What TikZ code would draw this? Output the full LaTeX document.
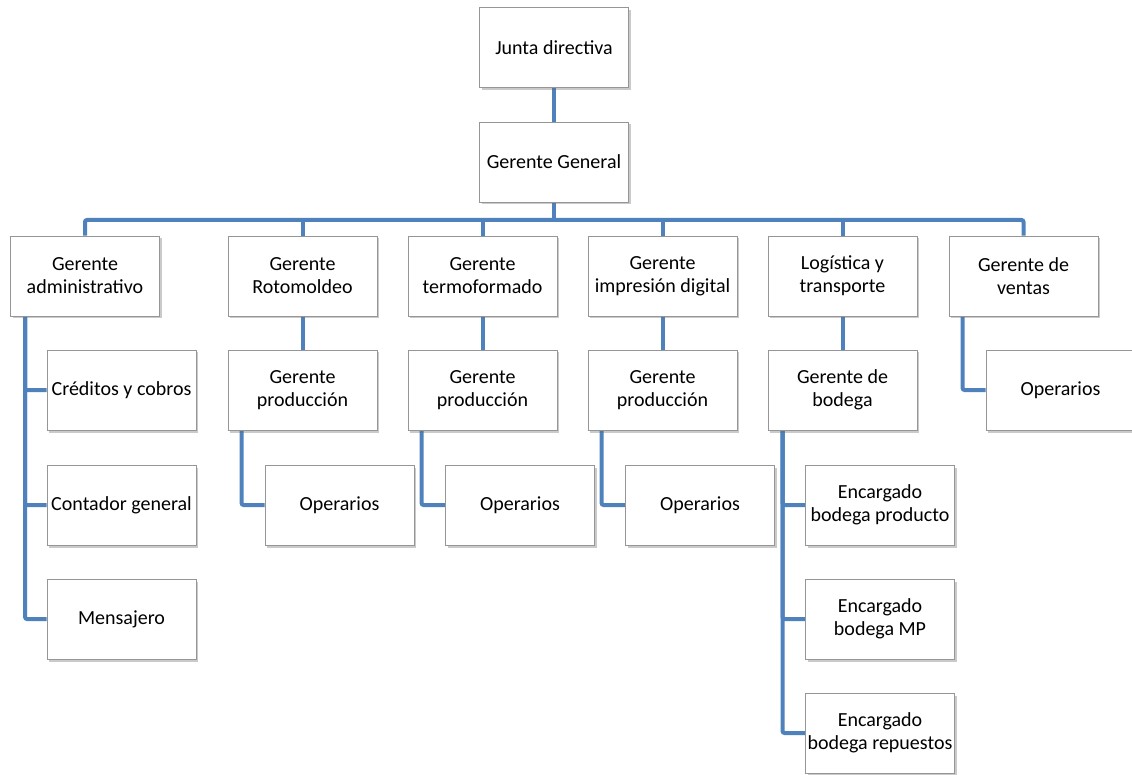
\documentclass[tikz,border=0pt]{standalone}
\usepackage{fontspec}
\setmainfont{Carlito}
\usetikzlibrary{shadows,backgrounds}
\definecolor{connblue}{RGB}{79,129,189}
\definecolor{boxgray}{RGB}{150,150,150}
\tikzset{
  orgbox/.style={draw=boxgray, line width=0.9pt, fill=white, minimum width=149pt, minimum height=80pt,
    inner sep=1pt, align=center, font=\fontsize{20}{23}\selectfont,
    drop shadow={shadow xshift=2pt, shadow yshift=-2.5pt, opacity=0.35, fill=black!60}},
  conn/.style={draw=connblue, line width=4pt, rounded corners=2pt}
}
\begin{document}
\begin{tikzpicture}[x=1pt,y=-1pt]
\useasboundingbox (0,0) rectangle (1132,775);
\node[orgbox] (junta) at (554,47.5) {Junta directiva};
\node[orgbox] (gg) at (554,162) {Gerente General};
% row 1
\node[orgbox] (admin) at (85,276) {Gerente\\administrativo};
\node[orgbox] (roto) at (302.5,276) {Gerente\\Rotomoldeo};
\node[orgbox] (termo) at (482.5,276) {Gerente\\termoformado};
\node[orgbox] (impr) at (662.5,276) {Gerente\\impresión digital};
\node[orgbox] (log) at (842.5,276) {Logística y\\transporte};
\node[orgbox] (ventas) at (1023.5,276) {Gerente de\\ventas};
% row 2
\node[orgbox] (cred) at (121.5,390) {Créditos y cobros};
\node[orgbox] (prod1) at (302.5,390) {Gerente\\producción};
\node[orgbox] (prod2) at (482.5,390) {Gerente\\producción};
\node[orgbox] (prod3) at (662.5,390) {Gerente\\producción};
\node[orgbox] (bod) at (842.5,390) {Gerente de\\bodega};
\node[orgbox] (opv) at (1060.5,390) {Operarios};
% row 3
\node[orgbox] (cont) at (121.5,505) {Contador general};
\node[orgbox] (op1) at (339.5,505) {Operarios};
\node[orgbox] (op2) at (520,505) {Operarios};
\node[orgbox] (op3) at (700,505) {Operarios};
\node[orgbox] (enc1) at (880,505) {Encargado\\bodega producto};
% row 4
\node[orgbox] (mens) at (121.5,619) {Mensajero};
\node[orgbox] (enc2) at (880,619) {Encargado\\bodega MP};
% row 5
\node[orgbox] (enc3) at (880,733) {Encargado\\bodega repuestos};
\coordinate (busy) at (0,220);
\coordinate (aspine) at ([xshift=15pt]admin.south west);
\coordinate (s1) at ([xshift=14pt]prod1.south west);
\coordinate (s2) at ([xshift=14pt]prod2.south west);
\coordinate (s3) at ([xshift=14pt]prod3.south west);
\coordinate (bspine) at ([xshift=15pt]bod.south west);
\coordinate (vspine) at ([xshift=14pt]ventas.south west);
\begin{scope}[on background layer]
\draw[conn] (junta.south) -- (gg.north);
\draw[conn] (gg.south) -- (gg.south |- busy);
\draw[conn] (admin.north) |- (ventas.north |- busy) -- (ventas.north);
\foreach \n in {roto,termo,impr,log}{
  \draw[conn] (\n.north) -- (\n.north |- busy);
}
\draw[conn] (roto.south) -- (prod1.north);
\draw[conn] (termo.south) -- (prod2.north);
\draw[conn] (impr.south) -- (prod3.north);
\draw[conn] (log.south) -- (bod.north);
\draw[conn] (aspine) |- (cred.west);
\draw[conn] (aspine) |- (cont.west);
\draw[conn] (aspine) |- (mens.west);
\draw[conn] (s1) |- (op1.west);
\draw[conn] (s2) |- (op2.west);
\draw[conn] (s3) |- (op3.west);
\draw[conn] (bspine) |- (enc1.west);
\draw[conn] (bspine) |- (enc2.west);
\draw[conn] (bspine) |- (enc3.west);
\draw[conn] (vspine) |- (opv.west);
\end{scope}
\end{tikzpicture}
\end{document}
